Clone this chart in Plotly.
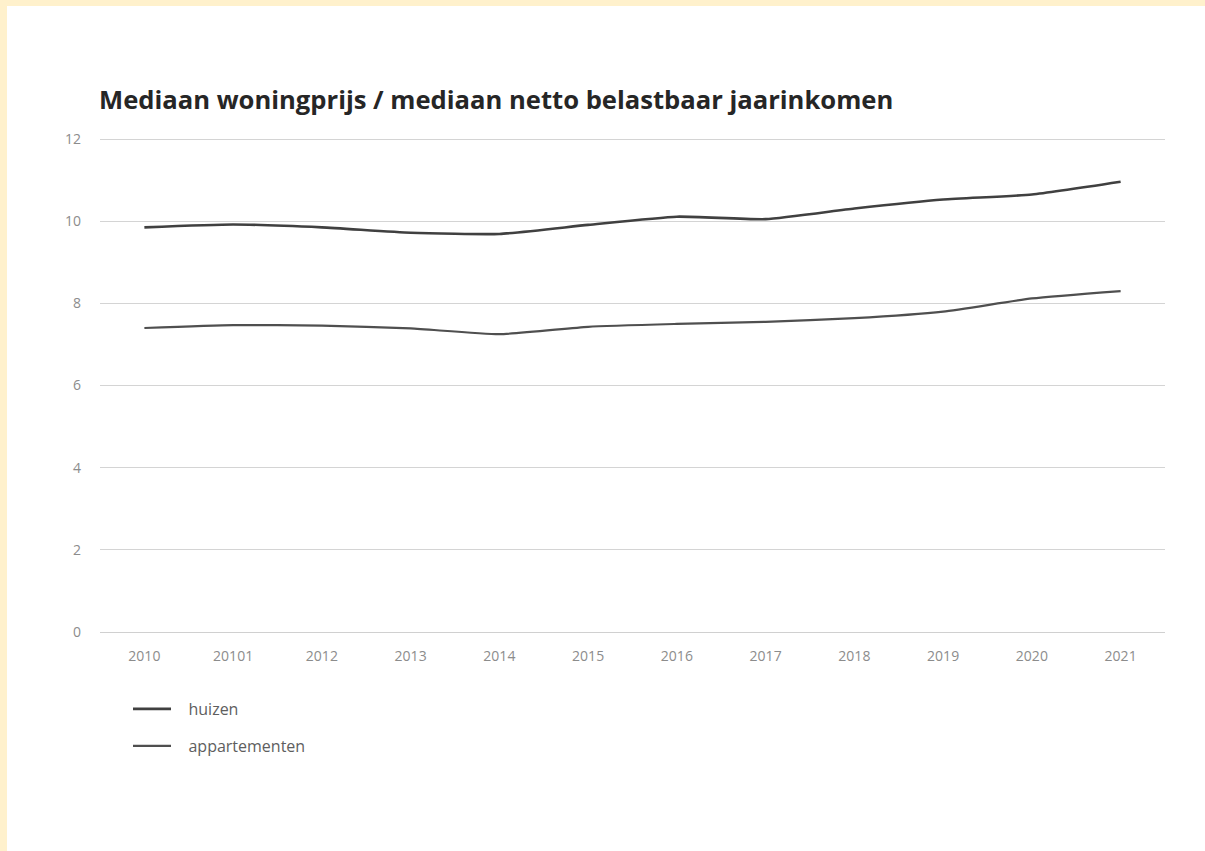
import plotly.graph_objects as go

# Ratio of median house price to median net taxable annual income
jaren = ["2010", "20101", "2012", "2013", "2014", "2015", "2016", "2017", "2018", "2019", "2020", "2021"]
huizen = [9.85, 9.92, 9.85, 9.72, 9.69, 9.91, 10.11, 10.05, 10.31, 10.53, 10.65, 10.96]
appartementen = [7.40, 7.47, 7.46, 7.39, 7.25, 7.43, 7.50, 7.55, 7.64, 7.80, 8.12, 8.30]
y_ticks = [0, 2, 4, 6, 8, 10, 12]

titel = "Mediaan woningprijs / mediaan netto belastbaar jaarinkomen"

W, H = 1205, 851
L, R, T, B = 100, 40, 137, 219
pw, ph = W - L - R, H - T - B
Y_TOP = 12.05

font_fam = "Open Sans, Noto Sans, sans-serif"
GAP = "\u00a0\u00a0\u00a0"  # extra room between legend line and its label


def px_x(p):
    return (p - L) / pw


def px_y(p):
    return (H - B - p) / ph


fig = go.Figure()
fig.add_trace(go.Scatter(
    x=jaren, y=huizen, name=GAP + "huizen", mode="lines",
    line=dict(color="#404040", width=2.6, shape="spline", smoothing=0.5),
    legend="legend",
))
fig.add_trace(go.Scatter(
    x=jaren, y=appartementen, name=GAP + "appartementen", mode="lines",
    line=dict(color="#4f4f4f", width=2.2, shape="spline", smoothing=0.5),
    legend="legend2",
))

legend_style = dict(
    orientation="v", xanchor="left", yanchor="middle",
    bgcolor="rgba(0,0,0,0)", itemwidth=38,
    font=dict(family=font_fam, size=16, color="#5e5e5e"),
)

fig.update_layout(
    width=W, height=H,
    margin=dict(l=L, r=R, t=T, b=B),
    paper_bgcolor="white", plot_bgcolor="white",
    showlegend=True,
    legend=dict(x=px_x(128), y=px_y(709), **legend_style),
    legend2=dict(x=px_x(128), y=px_y(746), **legend_style),
    xaxis=dict(
        type="category", range=[-0.5, len(jaren) - 0.5],
        showgrid=False, showline=False, zeroline=False, ticks="",
        ticklabelstandoff=14,
        tickfont=dict(family=font_fam, size=14, color="#8c8c8c"),
    ),
    yaxis=dict(
        range=[0, Y_TOP], tickvals=y_ticks, ticktext=[str(v) for v in y_ticks],
        showgrid=True, gridcolor="#d4d4d4", gridwidth=1.3,
        zeroline=True, zerolinecolor="#d0d0d0", zerolinewidth=1.3,
        showline=False, ticks="", ticklabelstandoff=18,
        tickfont=dict(family=font_fam, size=14, color="#8c8c8c"),
    ),
    annotations=[dict(
        text="<b>" + titel + "</b>", xref="paper", yref="paper",
        x=px_x(97), y=px_y(100), xanchor="left", yanchor="middle",
        showarrow=False,
        font=dict(family=font_fam, size=25.6, color="#262626"),
    )],
    shapes=[
        # cream frame strips along the top and left edges
        dict(type="rect", xref="paper", yref="paper", layer="above",
             x0=px_x(0), x1=px_x(W), y0=px_y(6), y1=px_y(0),
             fillcolor="#fff1cc", line=dict(width=0)),
        dict(type="rect", xref="paper", yref="paper", layer="above",
             x0=px_x(0), x1=px_x(7), y0=px_y(H), y1=px_y(0),
             fillcolor="#fff1cc", line=dict(width=0)),
    ],
)

fig.write_html("out.html")
